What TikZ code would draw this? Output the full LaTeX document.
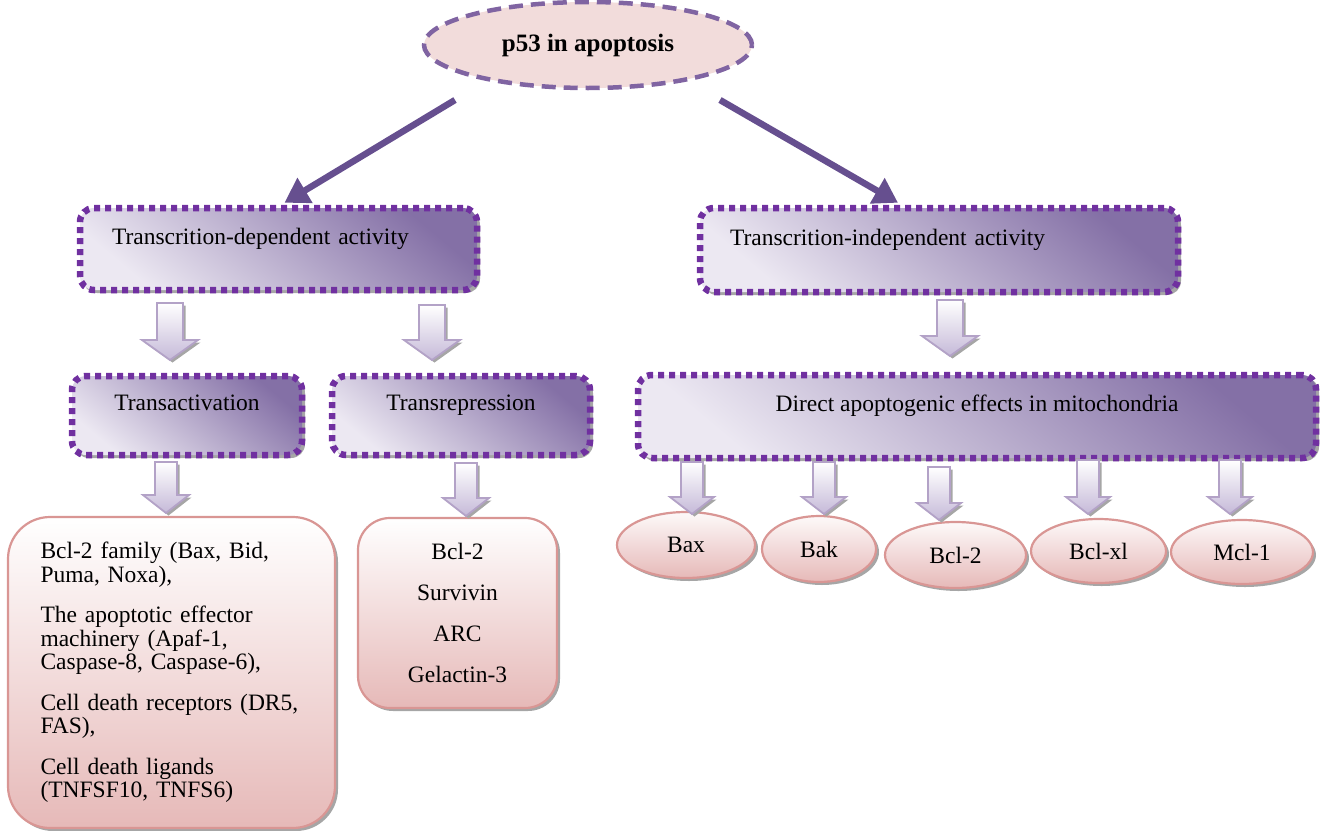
\documentclass[tikz,border=0pt]{standalone}
\usepackage{fontspec}
\setmainfont{Liberation Serif}
\usetikzlibrary{shapes.geometric,shadows,arrows.meta,calc}
\definecolor{titlefill}{HTML}{F2DCDB}
\definecolor{titledraw}{HTML}{8064A2}
\definecolor{mainarrow}{HTML}{664F8F}
\definecolor{dotc}{HTML}{7030A0}
\definecolor{pdark}{HTML}{8470A6}
\definecolor{pmid}{HTML}{BCB0D0}
\definecolor{plight}{HTML}{ECE8F2}
\definecolor{shadowgray}{HTML}{A6A6A6}
\definecolor{pinkdraw}{HTML}{D99694}
\definecolor{pinkfill}{HTML}{E6B9B8}
\definecolor{arrdraw}{HTML}{B3A2C7}
\definecolor{arrfill}{HTML}{C5B9D8}
\newcommand\blockarr[6]{%
  \path[barrow] ({#1-#4},{#2}) -- ({#1+#4},{#2}) -- ({#1+#4},{#3-#6}) -- ({#1+#5},{#3-#6})
    -- ({#1},{#3}) -- ({#1-#5},{#3-#6}) -- ({#1-#4},{#3-#6}) -- cycle;}
\begin{document}
\begin{tikzpicture}[x=1pt,y=-1pt,
  txt/.style={font=\fontsize{23.5}{27}\selectfont},
  titleell/.style={ellipse, fill=titlefill, draw=titledraw, line width=4.5pt,
    dash pattern=on 14pt off 8pt, inner sep=0, font=\fontsize{25}{30}\selectfont\bfseries},
  pbox/.style={rectangle, rounded corners=14pt, draw=dotc, line width=6.5pt,
    dash pattern=on 6pt off 5pt, top color=pdark, middle color=pmid, bottom color=plight,
    shading angle=-40,
    drop shadow={shadow xshift=3pt, shadow yshift=-3pt, fill=shadowgray, opacity=1},
    text height=16pt, text depth=26pt, inner sep=0, txt},
  pinkbox/.style={rectangle, draw=pinkdraw, line width=2.2pt, top color=white, bottom color=pinkfill,
    drop shadow={shadow xshift=3pt, shadow yshift=-3pt, fill=shadowgray, opacity=1}, txt},
  pinkell/.style={ellipse, draw=pinkdraw, line width=2.2pt, top color=white!92!pinkfill, bottom color=pinkfill,
    drop shadow={shadow xshift=3pt, shadow yshift=-3pt, fill=shadowgray, opacity=1}, inner sep=0, txt},
  barrow/.style={draw=arrdraw, line width=1.8pt, top color=white, bottom color=arrfill, line join=miter,
    drop shadow={shadow xshift=2.5pt, shadow yshift=-2.5pt, fill=shadowgray, opacity=1}},
  mainarr/.style={draw=mainarrow, line width=6.5pt, -{Triangle[width=28pt,length=24pt]}}
]
\useasboundingbox (0,0) rectangle (1322,830);

\node[titleell, minimum width=328pt, minimum height=86pt] (p53) at (588,45) {p53 in apoptosis};

\node[pbox, minimum width=397pt, minimum height=82pt, text width=333pt, align=left] (tda) at (278.5,249) {Transcrition-dependent activity};
\node[pbox, minimum width=478pt, minimum height=84pt, text width=418pt, align=left] (tia) at (939,250) {Transcrition-independent activity};

\node[pbox, minimum width=230pt, minimum height=79pt, align=center] (tact) at (187,415.5) {Transactivation};
\node[pbox, minimum width=258pt, minimum height=79pt, align=center] (trep) at (461,415.5) {Transrepression};
\node[pbox, minimum width=678pt, minimum height=83pt, align=center] (dir) at (977,416.5) {Direct apoptogenic effects in mitochondria};

\node[pinkbox, rounded corners=42pt, minimum width=327pt, minimum height=311pt, text width=262pt,
  inner xsep=32.5pt, align=left, font=\fontsize{23.5}{23.5}\selectfont] (list1) at (171.5,672.5)
  {Bcl-2 family (Bax, Bid,\\ Puma, Noxa),\\[17pt] The apoptotic effector\\ machinery (Apaf-1,\\ Caspase-8, Caspase-6),\\[17pt] Cell death receptors (DR5,\\ FAS),\\[17pt] Cell death ligands\\ (TNFSF10, TNFS6)};
\node[pinkbox, rounded corners=32pt, minimum width=199pt, minimum height=190pt, align=center,
  font=\fontsize{23.5}{41}\selectfont] (list2) at (457.5,613)
  {Bcl-2\\ Survivin\\ ARC\\ Gelactin-3};

\node[pinkell, minimum width=138pt, minimum height=66pt] (bax) at (686,545) {Bax};
\node[pinkell, minimum width=114pt, minimum height=66pt] (bak) at (819,549) {Bak};
\node[pinkell, minimum width=141pt, minimum height=66pt] (bcl2) at (955.5,555) {Bcl-2};
\node[pinkell, minimum width=135pt, minimum height=64pt] (bclxl) at (1098.5,551) {Bcl-xl};
\node[pinkell, minimum width=142pt, minimum height=64pt] (mcl1) at (1242,552) {Mcl-1};

\coordinate (s1) at (455,100);
\coordinate (s2) at (720,100);
\draw[mainarr] (s1) -- ([xshift=6pt,yshift=2pt]tda.north);
\draw[mainarr] (s2) -- ([xshift=-41pt,yshift=2pt]tia.north);

\blockarr{170}{303}{360}{13}{28}{20}
\blockarr{432}{305}{360}{13}{28}{20}
\blockarr{950}{300}{356}{13}{28}{20}
\blockarr{166}{462}{513}{11}{23}{18}
\blockarr{466}{463}{516}{11}{23}{18}
\blockarr{692}{462}{514}{11}{22}{17}
\blockarr{824}{462}{514}{11}{22}{17}
\blockarr{939}{467}{520}{11}{22}{17}
\blockarr{1088}{460}{514}{11}{22}{17}
\blockarr{1230}{460}{514}{11}{22}{17}
\end{tikzpicture}
\end{document}
